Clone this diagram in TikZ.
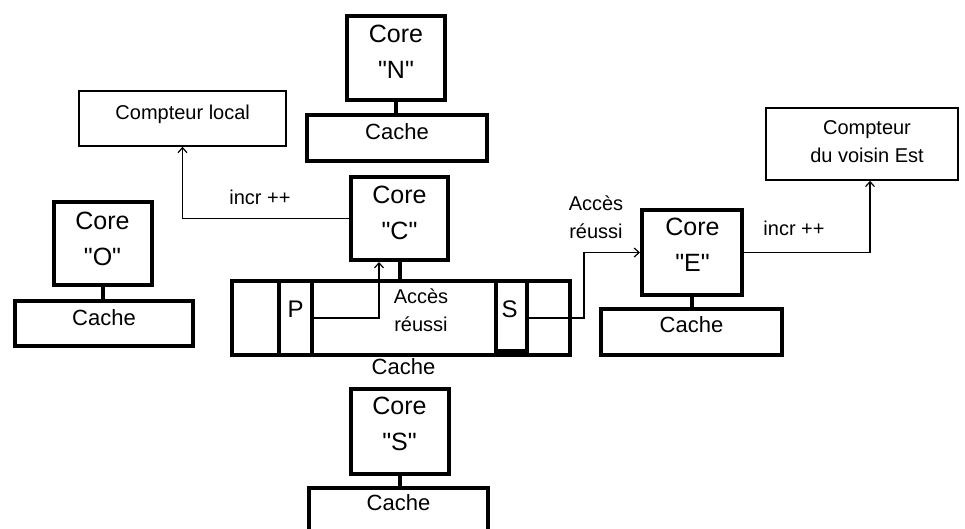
\documentclass[tikz,border=0pt]{standalone}
\usepackage{fontspec}
\setmainfont{Liberation Sans}[Ligatures=TeXOff]
\usetikzlibrary{arrows.meta}
\begin{document}
\begin{tikzpicture}[x=1pt,y=-1pt,
  thickbox/.style={draw, line width=4pt, rectangle, inner sep=0pt},
  thinbox/.style={draw, line width=1.6pt, rectangle, inner sep=0pt},
  coretxt/.style={font=\fontsize{25}{36}\selectfont, align=center, inner sep=0pt},
  bigtxt/.style={font=\fontsize{22}{28}\selectfont, inner sep=0pt},
  lettxt/.style={font=\fontsize{24}{28}\selectfont, inner sep=0pt},
  smalltxt/.style={font=\fontsize{20}{28}\selectfont, align=center, inner sep=0pt},
  conn/.style={line width=1.2pt, -{Straight Barb[length=5pt,width=9pt]}},
  stub/.style={line width=4pt}]
\useasboundingbox (0,0) rectangle (965,529);
% North
\node[thickbox, minimum width=98pt, minimum height=84pt] (cN) at (396,58) {};
\node[coretxt] (tN) at (396,51.5) {Core\\"N"};
\node[thickbox, minimum width=180pt, minimum height=46pt] (kN) at (397,138) {};
\node[bigtxt] (tkN) at (397,132) {Cache};
\draw[stub] (cN.south) -- (cN.south |- kN.north);
% Centre
\node[thickbox, minimum width=97pt, minimum height=83pt] (cC) at (399.5,218.5) {};
\node[coretxt] (tC) at (399.5,213) {Core\\"C"};
\node[thickbox, minimum width=338pt, minimum height=74pt] (bar) at (401,318) {};
\node[thickbox, minimum width=33pt, minimum height=74pt] (P) at (295.5,318) {};
\node[thickbox, minimum width=31pt, minimum height=70pt] (S) at (511,316) {};
\node[lettxt] (tP) at (295.5,309.5) {P};
\node[lettxt] (tS) at (509.5,309.5) {S};
\node[smalltxt] (tacc) at (421,310) {Accès\\réussi};
\node[bigtxt] (tkC) at (403.5,367) {Cache};
\draw[stub] (cC.south) -- (cC.south |- bar.north);
% West
\node[thickbox, minimum width=98pt, minimum height=83pt] (cO) at (103,243.5) {};
\node[coretxt] (tO) at (102.5,238.5) {Core\\"O"};
\node[thickbox, minimum width=178pt, minimum height=45pt] (kO) at (104,323.5) {};
\node[bigtxt] (tkO) at (104,318) {Cache};
\draw[stub] (cO.south) -- (cO.south |- kO.north);
% East
\node[thickbox, minimum width=100pt, minimum height=85pt] (cE) at (692,252.5) {};
\node[coretxt] (tE) at (692.5,244.5) {Core\\"E"};
\node[thickbox, minimum width=181pt, minimum height=46pt] (kE) at (691.5,332) {};
\node[bigtxt] (tkE) at (691.5,325) {Cache};
\draw[stub] (cE.south) -- (cE.south |- kE.north);
% South
\node[thickbox, minimum width=98pt, minimum height=85pt] (cS) at (400,431.5) {};
\node[coretxt] (tSo) at (399.5,424) {Core\\"S"};
\node[thickbox, minimum width=179pt, minimum height=46pt] (kS) at (398.5,511) {};
\node[bigtxt] (tkS) at (398.5,503) {Cache};
\draw[stub] (cS.south) -- (cS.south |- kS.north);
% Counters
\node[thinbox, minimum width=207pt, minimum height=55pt] (loc) at (182.5,118.5) {};
\node[smalltxt] (tloc) at (182.7,114) {Compteur local};
\node[thinbox, minimum width=192pt, minimum height=72pt] (est) at (862,144) {};
\node[smalltxt] (test) at (867,141.5) {Compteur\\du voisin Est};
% Connectors
\coordinate (jP) at (379,318);
\draw[conn] (P.east) -- (jP) -- (jP |- cC.south);
\coordinate (jS) at (584,318);
\draw[conn] (S.east |- jS) -- (jS) |- (cE.west);
\draw[conn] (cE.east) -| ([xshift=8pt]est.south);
\draw[conn] (cC.west) -| (loc.south);
% Labels
\node[smalltxt] (incL) at (260,197.5) {incr ++};
\node[smalltxt] (incR) at (794,228) {incr ++};
\node[smalltxt] (accR) at (596,217) {Accès\\réussi};
\end{tikzpicture}
\end{document}
